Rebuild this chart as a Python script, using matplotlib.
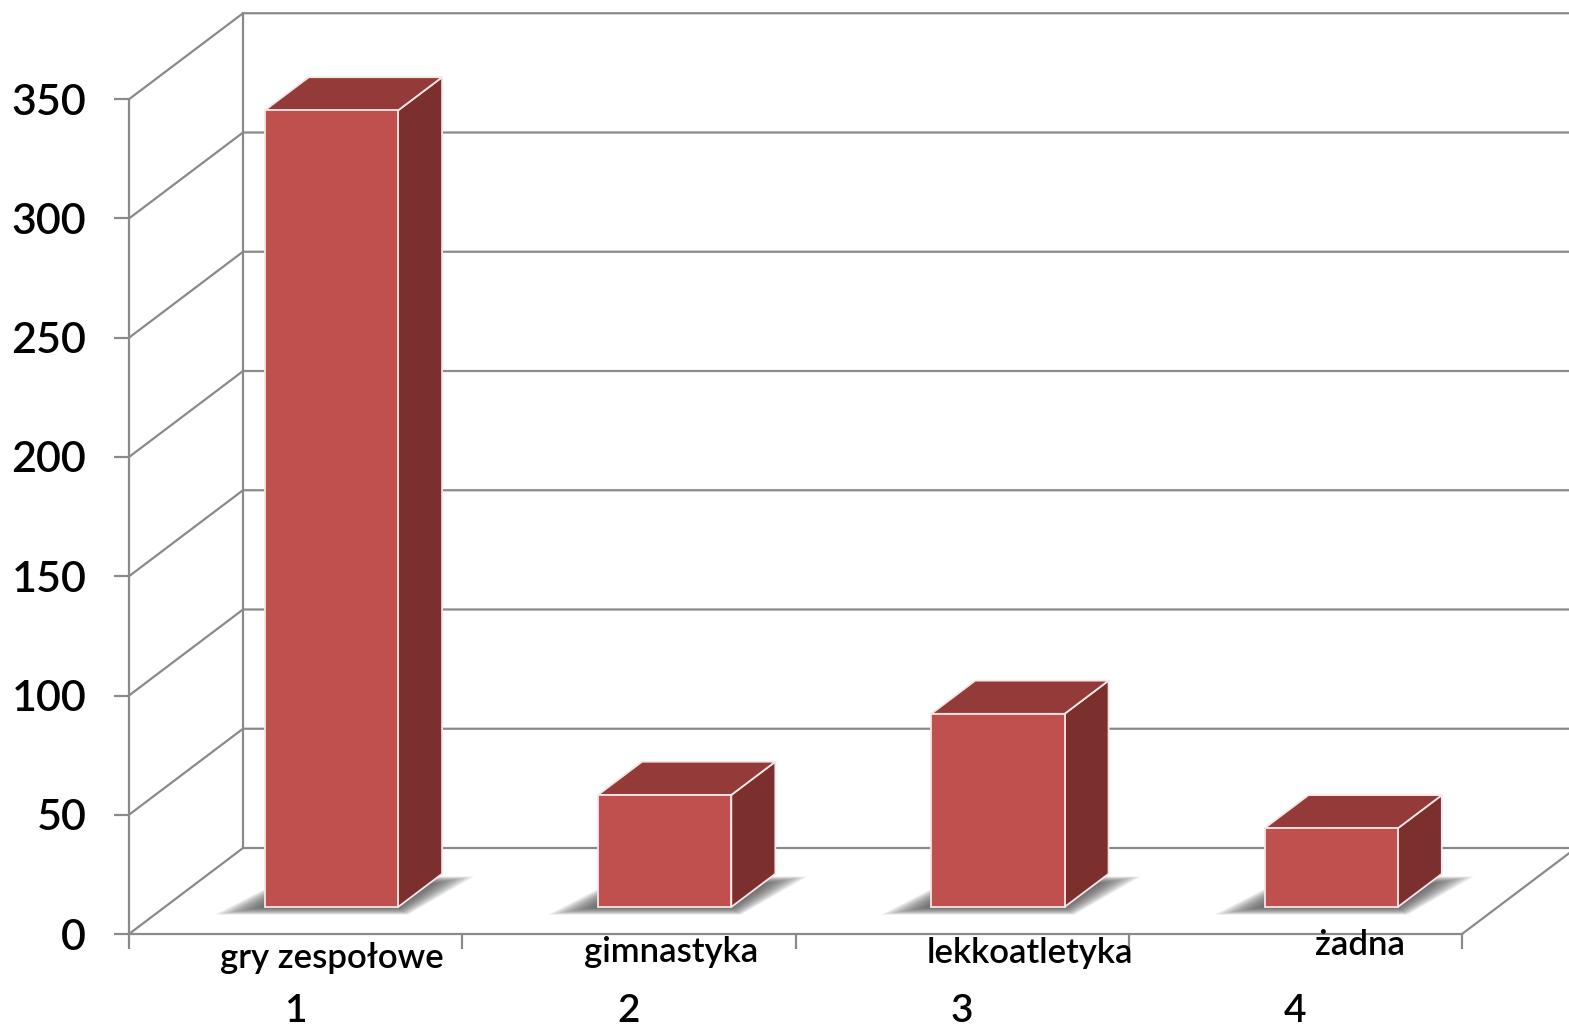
import numpy as np
import matplotlib.pyplot as plt
from matplotlib.patches import Polygon

plt.rcParams['font.family'] = ['Lato', 'DejaVu Sans']

# data
categories = ['gry zespołowe', 'gimnastyka', 'lekkoatletyka', 'żadna']
numbers = ['1', '2', '3', '4']
values = [334, 47, 81, 33]
yticks = [0, 50, 100, 150, 200, 250, 300, 350]

# 3d look: depth shift of the back wall in (category, value) units
PX_X = 333.25   # px per category
PX_V = 2.385    # px per value unit
DX = 114 / PX_X
DV = 86 / PX_V
D0, D1 = 0.314, 0.70      # bar depth (front, back)
BW0, BW1 = 0.30, 0.70     # bar span inside a category

grid_c = '#8a8a8a'
front_c = '#c0504d'
top_c = '#943a38'
side_c = '#7b302e'
FW = 'semibold'


def proj(x, v, d):
    return (x + d * DX, v + d * DV)


fig = plt.figure(figsize=(15.69, 10.30), dpi=100)
ax = fig.add_axes([0, 0, 1, 1])
ax.set_xlim(-129 / PX_X, (1569 - 129) / PX_X)
ax.set_ylim(-96 / PX_V, (1030 - 96) / PX_V)

# walls
ymax = yticks[-1]
ncat = len(categories)
for v in yticks:
    pts = [proj(0, v, 0), proj(0, v, 1), proj(ncat, v, 1)]
    ax.plot([p[0] for p in pts], [p[1] for p in pts], color=grid_c, lw=1.6, zorder=1,
            solid_joinstyle='miter')
a, b = proj(0, 0, 1), proj(0, ymax, 1)
ax.plot([a[0], b[0]], [a[1], b[1]], color=grid_c, lw=1.6, zorder=1)
a, b = proj(ncat, 0, 0), proj(ncat, 0, 1)
ax.plot([a[0], b[0]], [a[1], b[1]], color=grid_c, lw=1.6, zorder=1)

# axes lines
for s in ['top', 'right']:
    ax.spines[s].set_visible(False)
ax.spines['left'].set_position(('data', 0))
ax.spines['left'].set_bounds(0, ymax)
ax.spines['bottom'].set_position(('data', 0))
ax.spines['bottom'].set_bounds(0, ncat)
for s in ['left', 'bottom']:
    ax.spines[s].set_color(grid_c)
    ax.spines[s].set_linewidth(1.6)
ax.set_yticks(yticks)
ax.set_yticklabels([str(t) for t in yticks], fontweight=FW)
ax.set_xticks(range(ncat + 1))
ax.set_xticklabels([])
ax.tick_params(axis='both', direction='out', length=10.8, width=1.6, color=grid_c)
ax.tick_params(axis='y', labelsize=31, pad=20)

# bars
for i, v in enumerate(values):
    x0, x1 = i + BW0, i + BW1
    # soft shadow on the floor (stacked translucent footprints)
    for k in np.linspace(1, 0, 22):
        ex = 0.12 * k
        dd = 0.09 * k
        sh = [proj(x0 - ex, 0, D0 - dd), proj(x1 + ex * 0.5, 0, D0 - dd),
              proj(x1 + ex * 0.9, 0, D1 - 0.12 + dd), proj(x0 - ex * 0.4, 0, D1 - 0.12 + dd)]
        ax.add_patch(Polygon(sh, closed=True, facecolor='#404040', alpha=0.06,
                             edgecolor='none', zorder=2))
    front = [proj(x0, 0, D0), proj(x1, 0, D0), proj(x1, v, D0), proj(x0, v, D0)]
    top = [proj(x0, v, D0), proj(x1, v, D0), proj(x1, v, D1), proj(x0, v, D1)]
    side = [proj(x1, 0, D0), proj(x1, 0, D1), proj(x1, v, D1), proj(x1, v, D0)]
    for poly, c in [(side, side_c), (top, top_c), (front, front_c)]:
        ax.add_patch(Polygon(poly, closed=True, facecolor=c, edgecolor='#f4e6e6',
                             lw=1.3, zorder=3, joinstyle='miter'))

# category texts
label_x = [0.609, 1.626, 2.704, 3.694]
label_v = [-14.3, -11.7, -12.2, -8.8]
for i, name in enumerate(categories):
    ax.text(label_x[i], label_v[i], name, ha='center', va='baseline', fontsize=25,
            fontweight=FW)
for i, n in enumerate(numbers):
    ax.text(i + 0.5, -32.3, n, ha='center', va='center', fontsize=28, fontweight=FW)

fig.savefig('out.png', dpi=100)
